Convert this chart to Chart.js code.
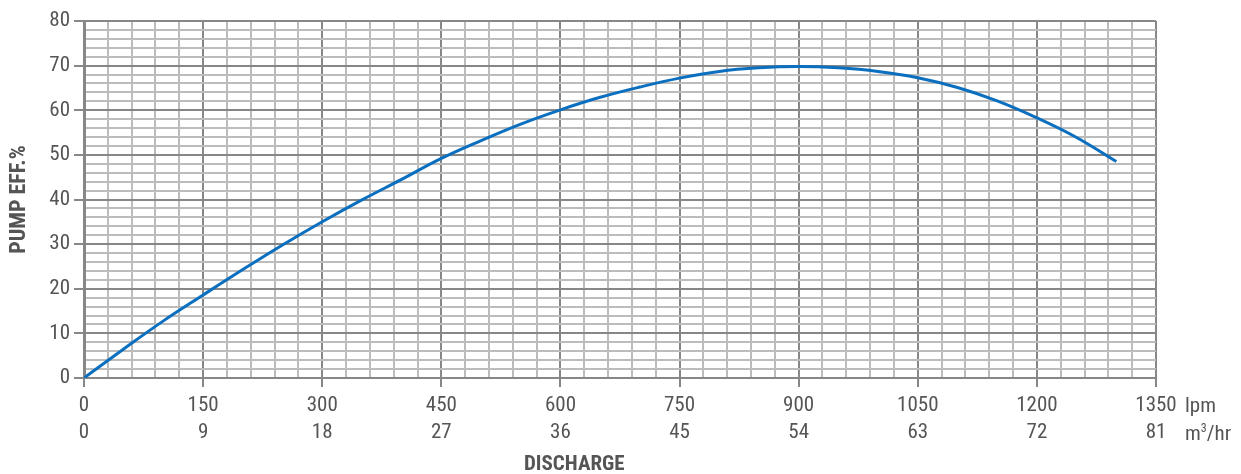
<!DOCTYPE html>
<html>
<head>
<meta charset="utf-8">
<script src="https://cdn.jsdelivr.net/npm/chart.js@4.4.0/dist/chart.umd.min.js"></script>
<style>
  body { margin: 0; background: #fff; }
  #wrap { position: relative; width: 1241px; height: 474px; }
  .lbl { position: absolute; font-family: 'Liberation Sans Narrow', 'Roboto Condensed', 'Roboto', sans-serif; color: #555; font-size: 21px; line-height: 24px; white-space: nowrap; }
  #t-x { left: 524px; top: 451px; font-weight: bold; font-size: 21px; }
  #u1 { left: 1185px; top: 393px; }
  #u2 { left: 1185px; top: 421px; }
  sup { font-size: 12px; line-height: 0; }
</style>
</head>
<body>
<div id="wrap">
  <canvas id="eff" width="1241" height="474"></canvas>
  <div class="lbl" id="u1">lpm</div>
  <div class="lbl" id="u2">m<sup>3</sup>/hr</div>
  <div class="lbl" id="t-x">DISCHARGE</div>
</div>
<script>
// discharge in lpm and pump efficiency in %
let flow = [0, 50, 100, 150, 200, 250, 300, 350, 400, 450, 500, 550, 600, 650, 700, 750, 800, 850, 900, 950, 1000, 1050, 1100, 1150, 1200, 1250, 1300]
let eff = [0, 6.5, 12.8, 18.6, 24.3, 29.8, 35.0, 39.9, 44.5, 49.2, 53.2, 56.9, 60.1, 62.9, 65.2, 67.2, 68.7, 69.5, 69.8, 69.5, 68.7, 67.3, 65.1, 62.1, 58.3, 53.9, 48.5]

let lpmTicks = [0, 150, 300, 450, 600, 750, 900, 1050, 1200, 1350]
let m3Ticks = [0, 9, 18, 27, 36, 45, 54, 63, 72, 81]
let effTicks = [0, 10, 20, 30, 40, 50, 60, 70, 80]

let points = []
for (let i = 0; i < flow.length; i = i + 1) {
    points.push({ x: flow[i], y: eff[i] })
}

const font = "'Liberation Sans Narrow', 'Roboto Condensed', Roboto, sans-serif"
const major = '#878787'
const minor = '#bcbcbc'

const ctx = document.getElementById('eff');
const config = {
    type: 'line',
    data: {
        datasets: [{
            data: points,
            borderColor: '#0b6fc0',
            borderWidth: 3,
            pointRadius: 0,
            tension: 0.4,
            fill: false
        }]
    },
    options: {
        responsive: false,
        animation: false,
        layout: { padding: { top: 21, right: 85, left: 0, bottom: 0 } },
        plugins: { legend: { display: false }, tooltip: { enabled: false } },
        scales: {
            x: {
                type: 'linear',
                min: 0,
                max: 1350,
                afterFit: (s) => { s.height = 96 },
                border: { color: major, width: 2 },
                grid: {
                    color: (c) => c.tick.value % 150 == 0 ? major : minor,
                    lineWidth: 2,
                    tickLength: 9,
                    tickColor: (c) => c.tick.value % 150 == 0 ? major : 'rgba(0,0,0,0)',
                    tickWidth: 2
                },
                ticks: {
                    stepSize: 30,
                    autoSkip: false,
                    maxRotation: 0,
                    padding: 5,
                    color: '#555',
                    font: { family: font, size: 21, lineHeight: 1.3 },
                    callback: (v) => {
                        let i = lpmTicks.indexOf(v)
                        return i < 0 ? '' : [String(lpmTicks[i]), String(m3Ticks[i])]
                    }
                }
            },
            y: {
                min: 0,
                max: 80,
                afterFit: (s) => { s.width = 84 },
                border: { color: major, width: 3 },
                title: {
                    display: true,
                    text: 'PUMP EFF.%',
                    color: '#555',
                    font: { family: font, size: 22, weight: 'bold' },
                    padding: { top: 6, bottom: 4 }
                },
                grid: {
                    color: (c) => c.tick.value % 10 == 0 ? major : minor,
                    lineWidth: 2,
                    tickLength: 10,
                    tickColor: (c) => c.tick.value % 10 == 0 ? major : 'rgba(0,0,0,0)',
                    tickWidth: 2
                },
                ticks: {
                    stepSize: 2,
                    autoSkip: false,
                    padding: 4,
                    color: '#555',
                    font: { family: font, size: 21 },
                    callback: (v) => effTicks.includes(v) ? String(v) : ''
                }
            }
        }
    }
};
let chart = new Chart(ctx, config);
</script>
</body>
</html>
